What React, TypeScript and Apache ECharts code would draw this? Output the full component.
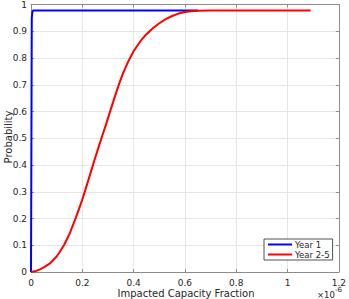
import React, { useEffect, useRef } from "react";
import * as echarts from "echarts";

const year1X = [0, 0.001, 0.003, 0.006, 0.01, 0.65];
const year1Y = [0, 0.3, 0.95, 0.975, 0.978, 0.978];

const year25X = [0, 0.02, 0.035, 0.05, 0.074, 0.1, 0.112, 0.13, 0.151, 0.175, 0.199, 0.217, 0.235, 0.25, 0.267, 0.28, 0.293, 0.31, 0.325, 0.34, 0.357, 0.38, 0.4, 0.425, 0.448, 0.475, 0.499, 0.525, 0.55, 0.575, 0.6, 0.625, 0.65, 0.7, 0.8, 1.09];
const year25Y = [0, 0.004, 0.01, 0.017, 0.032, 0.058, 0.075, 0.103, 0.144, 0.203, 0.268, 0.323, 0.379, 0.426, 0.477, 0.516, 0.553, 0.605, 0.65, 0.694, 0.739, 0.789, 0.825, 0.861, 0.887, 0.911, 0.929, 0.945, 0.957, 0.966, 0.972, 0.975, 0.977, 0.978, 0.978, 0.978];

const seriesNames = ["Year 1", "Year 2-5"];
const xLabel = "Impacted Capacity Fraction";
const yLabel = "Probability";

const FONT = "DejaVu Sans";
const TXT = "#262626";
const AXIS = "#8c8c8c";

export default function App() {
  const ref = useRef<HTMLDivElement>(null);
  useEffect(() => {
    if (!ref.current) return;
    const chart = echarts.init(ref.current, undefined, { renderer: "svg" });
    const axisCommon = {
      type: "value" as const,
      axisLine: { show: true, onZero: false, lineStyle: { color: AXIS, width: 1 } },
      axisTick: { show: true, inside: true, length: 3, lineStyle: { color: AXIS } },
    };
    chart.setOption({
      animation: false,
      grid: { left: 31, right: 8, top: 3, bottom: 27, containLabel: false },
      xAxis: [
        {
          ...axisCommon,
          min: 0, max: 1.2, interval: 0.2,
          axisLabel: { fontSize: 9, color: TXT, fontFamily: FONT, margin: 6 },
          splitLine: { show: true, lineStyle: { color: "#e6e6e6" } },
        },
        {
          ...axisCommon,
          position: "top",
          min: 0, max: 1.2, interval: 0.2,
          axisLabel: { show: false },
          splitLine: { show: false },
        },
      ],
      yAxis: [
        {
          ...axisCommon,
          min: 0, max: 1, interval: 0.1,
          axisLabel: { fontSize: 9, color: TXT, fontFamily: FONT, margin: 4 },
          splitLine: { show: true, lineStyle: { color: "#e6e6e6" } },
        },
        {
          ...axisCommon,
          position: "right",
          min: 0, max: 1, interval: 0.1,
          axisLabel: { show: false },
          splitLine: { show: false },
        },
      ],
      legend: {
        left: 264,
        top: 239,
        orient: "vertical",
        data: seriesNames,
        icon: "rect",
        itemWidth: 24,
        itemHeight: 2,
        itemGap: 1,
        padding: [1, 3, 1, 4],
        borderColor: "#262626",
        borderWidth: 0.8,
        backgroundColor: "#ffffff",
        borderRadius: 0,
        textStyle: { fontSize: 8.5, color: TXT, fontFamily: FONT, padding: [0, 0, 0, -2] },
      },
      series: [
        {
          name: seriesNames[0],
          type: "line",
          data: year1X.map((x, i) => [x, year1Y[i]]),
          showSymbol: false,
          symbol: "none",
          clip: false,
          lineStyle: { color: "#0000ff", width: 2 },
          itemStyle: { color: "#0000ff" },
        },
        {
          name: seriesNames[1],
          type: "line",
          data: year25X.map((x, i) => [x, year25Y[i]]),
          showSymbol: false,
          symbol: "none",
          smooth: false,
          clip: false,
          lineStyle: { color: "#ff0000", width: 2, join: "round" },
          itemStyle: { color: "#ff0000" },
        },
      ],
      graphic: [
        {
          type: "text",
          x: 186,
          y: 293,
          style: { text: xLabel, fontSize: 10, fontFamily: FONT, fill: TXT, align: "center", verticalAlign: "middle" },
        },
        {
          type: "text",
          x: 8,
          y: 137,
          rotation: Math.PI / 2,
          style: { text: yLabel, fontSize: 10, fontFamily: FONT, fill: TXT, align: "center", verticalAlign: "middle" },
        },
        {
          type: "text",
          x: 317,
          y: 293,
          style: {
            text: "{a|×10}{b|-6}",
            fontFamily: FONT,
            fill: TXT,
            align: "left",
            verticalAlign: "middle",
            rich: {
              a: { fontSize: 8.5, fontFamily: FONT, fill: TXT, verticalAlign: "bottom" },
              b: { fontSize: 7, fontFamily: FONT, fill: TXT, verticalAlign: "top", padding: [0, 0, 6, 0] },
            },
          },
        },
      ],
    });
    return () => chart.dispose();
  }, []);
  return <div ref={ref} style={{ width: 349, height: 299, position: "absolute", left: 0, top: 0, background: "#fff" }} />;
}
